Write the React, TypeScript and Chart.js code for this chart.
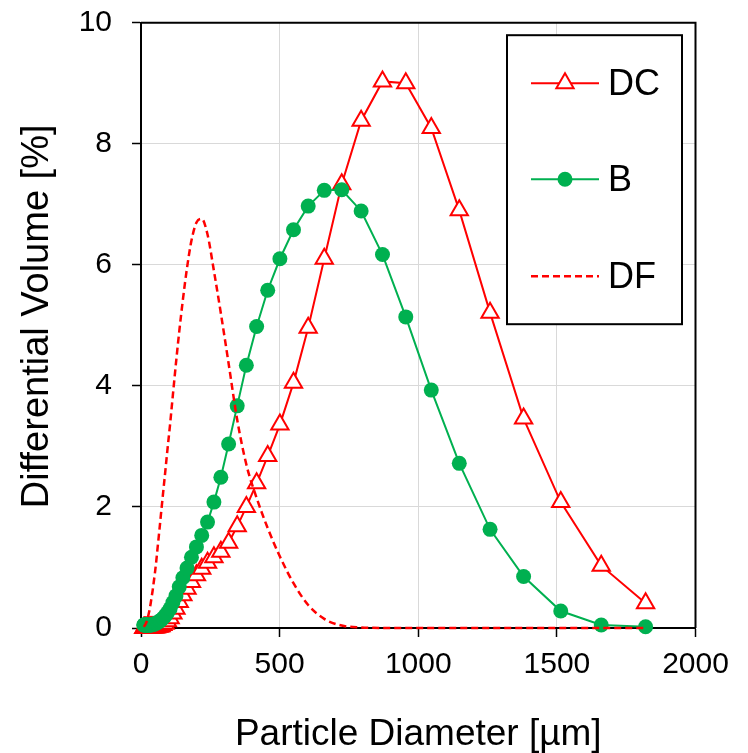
import React, { useEffect, useRef } from 'react';
import { Chart, registerables } from 'chart.js';

Chart.register(...registerables);

// Particle diameter classes [µm]
const diameters = [
  10, 11, 12, 13, 15, 16, 18, 20, 22, 24, 26, 29, 32, 35, 38, 42, 46, 50, 55, 60,
  66, 72, 79, 87, 95, 105, 115, 126, 138, 151, 166, 182, 200, 219, 240, 263, 288, 316, 347, 380,
  417, 457, 501, 550, 603, 661, 724, 794, 871, 955, 1047, 1148, 1259, 1380, 1514, 1660, 1820,
];

// Differential volume [%]
const dcValues = [
  0, 0, 0, 0, 0, 0, 0, 0, 0, 0, 0, 0, 0.01, 0.01, 0.01, 0.01, 0.01, 0.01, 0.01, 0.02,
  0.02, 0.03, 0.05, 0.07, 0.11, 0.16, 0.24, 0.32, 0.43, 0.54, 0.65, 0.76, 0.87, 0.98, 1.08, 1.17, 1.26, 1.41, 1.68, 2.0,
  2.39, 2.84, 3.36, 4.05, 4.96, 6.1, 7.33, 8.38, 9.03, 9.0, 8.26, 6.9, 5.21, 3.46, 2.08, 1.03, 0.41,
];

const bValues = [
  0.05, 0.05, 0.05, 0.05, 0.05, 0.05, 0.05, 0.05, 0.05, 0.05, 0.05, 0.05, 0.05, 0.05, 0.05, 0.06, 0.06, 0.07, 0.08, 0.09,
  0.11, 0.13, 0.16, 0.2, 0.25, 0.32, 0.42, 0.53, 0.68, 0.83, 0.99, 1.17, 1.34, 1.53, 1.75, 2.08, 2.49, 3.04, 3.67, 4.34,
  4.98, 5.58, 6.1, 6.58, 6.97, 7.23, 7.24, 6.89, 6.17, 5.14, 3.93, 2.72, 1.63, 0.85, 0.28, 0.05, 0.02,
];

const dfValues = [
  0.02, 0.03, 0.03, 0.04, 0.05, 0.06, 0.08, 0.1, 0.13, 0.16, 0.2, 0.26, 0.33, 0.41, 0.5, 0.62, 0.76, 0.9, 1.1, 1.33,
  1.6, 1.88, 2.2, 2.56, 2.93, 3.37, 3.85, 4.37, 4.9, 5.42, 5.95, 6.4, 6.7, 6.76, 6.5, 5.9, 5.2, 4.37, 3.44, 2.7,
  2.15, 1.65, 1.18, 0.74, 0.38, 0.15, 0.04, 0.01, 0, 0, 0, 0, 0, 0, 0, 0, 0,
];

const seriesNames = ['DC', 'B', 'DF'];
const xTicks = [0, 500, 1000, 1500, 2000];
const yTicks = [0, 2, 4, 6, 8, 10];
const xTitle = 'Particle Diameter [µm]';
const yTitle = 'Differential Volume [%]';

const RED = '#FF0000';
const GREEN = '#00B050';
const FONT = 'Arial, "Liberation Sans", sans-serif';

const toPoints = (vals: number[]) => diameters.map((d, i) => ({ x: d, y: vals[i] }));

const frameAndLegend = {
  id: 'frameAndLegend',
  beforeDatasetsDraw(chart: any) {
    const { ctx, chartArea } = chart;
    const { left, top, right, bottom } = chartArea;
    ctx.save();
    ctx.strokeStyle = '#000';
    ctx.lineWidth = 2;
    ctx.beginPath();
    ctx.moveTo(left, top);
    ctx.lineTo(right, top);
    ctx.lineTo(right, bottom);
    ctx.stroke();
    // y-axis title
    ctx.translate(38, (top + bottom) / 2 - 9);
    ctx.rotate(-Math.PI / 2);
    ctx.font = `38px ${FONT}`;
    ctx.fillStyle = '#000';
    ctx.textAlign = 'center';
    ctx.textBaseline = 'middle';
    ctx.fillText(yTitle, 0, 0);
    ctx.restore();
  },
  afterDatasetsDraw(chart: any) {
    const { ctx, chartArea } = chart;
    const { right, top } = chartArea;
    const bx = right - 188.5;
    const by = top + 12.5;
    const bw = 175;
    const bh = 289;
    ctx.save();
    ctx.fillStyle = '#fff';
    ctx.fillRect(bx, by, bw, bh);
    ctx.strokeStyle = '#000';
    ctx.lineWidth = 2;
    ctx.strokeRect(bx, by, bw, bh);

    const lx0 = bx + 24;
    const lx1 = bx + 92;
    const mx = (lx0 + lx1) / 2;
    const rows = [by + 48, by + 144, by + 241];
    ctx.font = `36px ${FONT}`;
    ctx.textBaseline = 'middle';
    ctx.textAlign = 'left';

    rows.forEach((y, i) => {
      const color = i === 1 ? GREEN : RED;
      ctx.strokeStyle = color;
      ctx.lineWidth = i === 2 ? 2.5 : 2;
      ctx.setLineDash(i === 2 ? [7, 4] : []);
      ctx.beginPath();
      ctx.moveTo(lx0, y);
      ctx.lineTo(lx1, y);
      ctx.stroke();
      ctx.setLineDash([]);
      if (i === 0) {
        const r = 10;
        ctx.beginPath();
        ctx.moveTo(mx, y - r);
        ctx.lineTo(mx + 0.866 * r, y + 0.5 * r);
        ctx.lineTo(mx - 0.866 * r, y + 0.5 * r);
        ctx.closePath();
        ctx.fillStyle = '#fff';
        ctx.fill();
        ctx.lineWidth = 2;
        ctx.stroke();
      } else if (i === 1) {
        ctx.beginPath();
        ctx.arc(mx, y, 7.5, 0, Math.PI * 2);
        ctx.fillStyle = GREEN;
        ctx.fill();
      }
      ctx.fillStyle = '#000';
      ctx.fillText(seriesNames[i], lx1 + 9, y + 1.5);
    });
    ctx.restore();
  },
};

export default function App() {
  const canvasRef = useRef<HTMLCanvasElement | null>(null);

  useEffect(() => {
    const canvas = canvasRef.current;
    if (!canvas) return;
    const chart = new Chart(canvas, {
      type: 'line',
      data: {
        datasets: [
          {
            label: seriesNames[2],
            data: toPoints(dfValues),
            borderColor: RED,
            borderWidth: 2.5,
            borderDash: [7, 4],
            pointRadius: 0,
            cubicInterpolationMode: 'monotone',
            fill: false,
            clip: false,
            order: 0,
          },
          {
            label: seriesNames[1],
            data: toPoints(bValues),
            borderColor: GREEN,
            borderWidth: 2,
            pointStyle: 'circle',
            pointRadius: 7.5,
            pointBackgroundColor: GREEN,
            pointBorderColor: GREEN,
            pointBorderWidth: 0,
            tension: 0,
            fill: false,
            clip: false,
            order: 1,
          },
          {
            label: seriesNames[0],
            data: toPoints(dcValues),
            borderColor: RED,
            borderWidth: 2,
            pointStyle: 'triangle',
            pointRadius: 10,
            pointBackgroundColor: '#fff',
            pointBorderColor: RED,
            pointBorderWidth: 2,
            tension: 0,
            fill: false,
            clip: false,
            order: 2,
          },
        ],
      },
      options: {
        animation: false,
        responsive: false,
        maintainAspectRatio: false,
        layout: { padding: { left: 0, right: 52.5, top: 22.7, bottom: 0 } },
        plugins: {
          legend: { display: false },
          tooltip: { enabled: false },
        },
        scales: {
          x: {
            type: 'linear',
            min: 0,
            max: 2000,
            afterBuildTicks: (scale: any) => {
              scale.ticks = xTicks.map((v) => ({ value: v }));
            },
            afterFit: (scale: any) => {
              scale.height = 125;
              scale.paddingLeft = 0;
              scale.paddingRight = 0;
            },
            grid: {
              color: '#D9D9D9',
              lineWidth: 1,
              tickLength: 9,
              tickColor: '#000',
              tickWidth: 1.5,
            },
            border: { color: '#000', width: 2 },
            ticks: {
              color: '#000',
              font: { family: FONT, size: 30 },
              padding: 10,
              maxRotation: 0,
              callback: (v: any) => String(v),
            },
            title: {
              display: true,
              text: xTitle,
              color: '#000',
              font: { family: FONT, size: 37, lineHeight: 1 },
              padding: { top: 0, bottom: 0 },
            },
          },
          y: {
            type: 'linear',
            min: 0,
            max: 10,
            afterBuildTicks: (scale: any) => {
              scale.ticks = yTicks.map((v) => ({ value: v }));
            },
            afterFit: (scale: any) => {
              scale.width = 141;
              scale.paddingTop = 0;
              scale.paddingBottom = 0;
            },
            grid: {
              color: '#D9D9D9',
              lineWidth: 1,
              tickLength: 9,
              tickColor: '#000',
              tickWidth: 1.5,
            },
            border: { color: '#000', width: 2 },
            ticks: {
              color: '#000',
              font: { family: FONT, size: 30 },
              padding: 20,
              callback: (v: any) => String(v),
            },
            title: { display: false },
          },
        },
      },
      plugins: [frameAndLegend],
    } as any);
    return () => chart.destroy();
  }, []);

  return (
    <div style={{ position: 'absolute', left: 0, top: 0, width: 748, height: 753, background: '#fff' }}>
      <canvas ref={canvasRef} width={748} height={753} style={{ display: 'block' }} />
    </div>
  );
}
